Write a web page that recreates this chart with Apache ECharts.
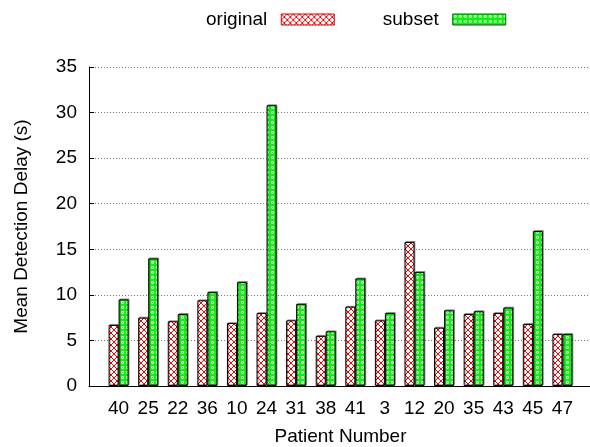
<!DOCTYPE html>
<html>
<head>
<meta charset="utf-8">
<script src="https://cdn.jsdelivr.net/npm/echarts@6/dist/echarts.min.js"></script>
<style>html,body{margin:0;padding:0;background:#fff}#c{width:590px;height:447px}</style>
</head>
<body>
<div id="c"></div>
<script>
const patients = ['40','25','22','36','10','24','31','38','41','3','12','20','35','43','45','47'];
const original = [6.7, 7.5, 7.1, 9.4, 6.9, 8.0, 7.2, 5.5, 8.7, 7.2, 15.8, 6.4, 7.9, 8.0, 6.8, 5.7];
const subset   = [9.5, 14.0, 7.9, 10.3, 11.4, 30.8, 9.0, 6.0, 11.8, 8.0, 12.5, 8.3, 8.2, 8.6, 17.0, 5.7];
const yTicks = [0, 5, 10, 15, 20, 25, 30, 35];

function hatch() {
  const c = document.createElement('canvas'); c.width = 6; c.height = 6;
  const g = c.getContext('2d');
  g.fillStyle = '#fff'; g.fillRect(0, 0, 6, 6);
  g.strokeStyle = '#ff0000'; g.lineWidth = 1;
  g.beginPath(); g.moveTo(-1, -1); g.lineTo(7, 7); g.moveTo(7, -1); g.lineTo(-1, 7); g.stroke();
  return c;
}
function dots() {
  const c = document.createElement('canvas'); c.width = 5; c.height = 5;
  const g = c.getContext('2d');
  g.fillStyle = '#10f010'; g.fillRect(0, 0, 5, 5);
  g.fillStyle = '#ffffff';
  g.beginPath(); g.arc(2.5, 2.5, 1.4, 0, Math.PI * 2); g.fill();
  g.fillStyle = '#10f010';
  g.beginPath(); g.arc(2.5, 2.5, 0.6, 0, Math.PI * 2); g.fill();
  return c;
}
const redFill = { image: hatch(), repeat: 'repeat' };
const greenFill = { image: dots(), repeat: 'repeat' };

const cats = [''].concat(patients, ['']);
const pad = a => ['-'].concat(a, ['-']);
const font = 'Liberation Sans';
const fs = 19;

const chart = echarts.init(document.getElementById('c'));
chart.setOption({
  animation: false,
  textStyle: { fontFamily: font },
  legend: {
    top: 5, left: 201, align: 'right', itemGap: 48, itemWidth: 53, itemHeight: 11, icon: 'rect',
    textStyle: { fontSize: fs, color: '#000', fontFamily: font, padding: [0, 9, 0, 0] },
    data: [
      { name: 'original', itemStyle: { color: redFill, borderColor: '#cc0000', borderWidth: 1 } },
      { name: 'subset', itemStyle: { color: greenFill, borderColor: '#006600', borderWidth: 1 } }
    ]
  },
  grid: { left: 89, right: -2, top: 67, bottom: 61, containLabel: false, outerBoundsMode: 'none' },
  xAxis: {
    type: 'category', data: cats, boundaryGap: false,
    name: 'Patient Number', nameLocation: 'middle', nameGap: 41,
    nameTextStyle: { fontSize: fs, color: '#000', fontFamily: font },
    axisLine: { lineStyle: { color: '#000', width: 1 } },
    axisTick: { show: false },
    axisLabel: { interval: 0, fontSize: fs, color: '#000', margin: 13, fontFamily: font },
    splitLine: { show: false }
  },
  yAxis: {
    type: 'value', min: yTicks[0], max: yTicks[yTicks.length - 1], interval: 5,
    name: 'Mean Detection Delay (s)', nameLocation: 'middle', nameGap: 58, nameRotate: 90,
    nameTextStyle: { fontSize: fs, color: '#000', fontFamily: font },
    axisLine: { show: true, lineStyle: { color: '#000', width: 1 } },
    axisTick: { show: true, inside: true, length: 5, lineStyle: { color: '#000' } },
    axisLabel: { fontSize: fs, color: '#000', margin: 12, fontFamily: font },
    splitLine: { show: true, lineStyle: { color: '#777', type: [1, 2], width: 1 } }
  },
  series: [
    {
      name: 'original', type: 'bar', data: pad(original), barWidth: 10, barGap: '0%',
      itemStyle: { color: redFill, borderColor: '#000', borderWidth: 1,
        shadowColor: 'rgba(0,0,0,0.35)', shadowOffsetX: 1, shadowOffsetY: -1, shadowBlur: 0 }
    },
    {
      name: 'subset', type: 'bar', data: pad(subset), barWidth: 10, barGap: '0%',
      itemStyle: { color: greenFill, borderColor: '#000', borderWidth: 1,
        shadowColor: 'rgba(0,0,0,0.35)', shadowOffsetX: 1, shadowOffsetY: -1, shadowBlur: 0 }
    }
  ]
});
</script>
</body>
</html>
